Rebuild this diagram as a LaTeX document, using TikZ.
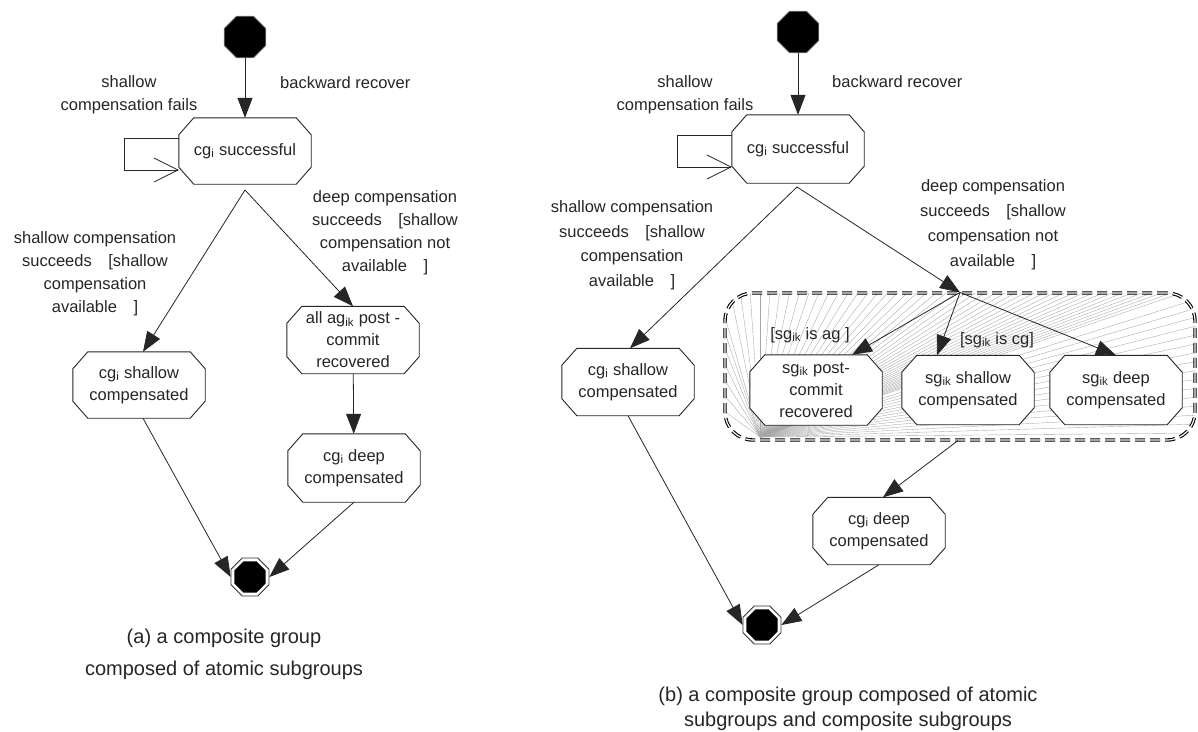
\documentclass[tikz,border=0pt]{standalone}
\usepackage{fontspec}
\setmainfont{Liberation Sans}
\usetikzlibrary{arrows.meta,shapes.geometric}
\pgfdeclarelayer{back}
\pgfdeclarelayer{shape}
\pgfsetlayers{back,shape,main}
\newcommand\subx[1]{\textsubscript{#1}}
\newcommand\labfont{\fontsize{16.5}{23}\selectfont}
\newcommand\nodefont{\fontsize{16.5}{22}\selectfont}
\newcommand\capfont{\fontsize{20}{32}\selectfont}

\tikzset{
  stnode/.style={rectangle, inner sep=0pt, minimum width=132pt, minimum height=66pt,
    align=center, font=\nodefont, text=black!85},
  stline/.style={draw=black!85, fill=white, line width=0.9pt, line join=round},
  lab/.style={align=center, font=\labfont, text=black!85, inner sep=0pt},
  captxt/.style={align=center, font=\capfont, text=black!85, inner sep=0pt},
  arr/.style={draw=black!85, line width=0.8pt, -{Triangle[length=20pt,width=15pt]}},
  looparr/.style={draw=black!85, line width=0.8pt,
    -{Straight Barb[length=24pt,width=24pt,line width=0.8pt]}},
  initst/.style={regular polygon, regular polygon sides=8, minimum size=45pt,
    inner sep=0pt, fill=black, draw=black!50, line width=0.8pt},
  finring/.style={regular polygon, regular polygon sides=8, minimum size=41pt,
    inner sep=0pt, draw=black!80, line width=0.8pt, fill=white},
  fincore/.style={regular polygon, regular polygon sides=8, minimum size=34pt,
    inner sep=0pt, fill=black},
  groupbox/.style={draw=black, rounded corners=28pt, line width=1.1pt, double=white,
    double distance=1.2pt, dash pattern=on 10pt off 5pt,
    minimum width=470pt, minimum height=147pt, inner sep=0pt},
  fanline/.style={draw=black!35, line width=0.35pt},
}

% state box: a text node with a chamfered white outline behind it
\newcommand\stbox[4][]{%
  \node[stnode,#1] (#2) at (#3) {#4};
  \begin{pgfonlayer}{shape}
    \path[stline] ([xshift=15pt]#2.north west) -- ([xshift=-15pt]#2.north east)
      -- ([yshift=-17pt]#2.north east) -- ([yshift=17pt]#2.south east)
      -- ([xshift=-15pt]#2.south east) -- ([xshift=15pt]#2.south west)
      -- ([yshift=17pt]#2.south west) -- ([yshift=-17pt]#2.north west) -- cycle;
  \end{pgfonlayer}}

\begin{document}
\begin{tikzpicture}[x=1pt,y=-1pt]
\useasboundingbox (0,0) rectangle (1198,731);

\begin{pgfonlayer}{back}
  \fill[white] (0,0) rectangle (1198,731);
  % shading lines inside the composite-subgroup region
  \begin{scope}
    \clip[rounded corners=28pt] (725,293) rectangle (1195,440);
    \foreach \x in {730,740,...,1190} \draw[fanline] (760,437) -- (\x,290);
    \foreach \y in {298,307,...,434} \draw[fanline] (760,437) -- (1200,\y);
    \foreach \y in {300,318,...,420} \draw[fanline] (760,437) -- (720,\y);
  \end{scope}
\end{pgfonlayer}

% ---------- (a) ----------
\node[initst] (ia) at (245,37) {};
\stbox{s1a}{245,151}{cg\subx{i} successful}
\stbox{s2a}{139,385}{cg\subx{i} shallow\\compensated}
\stbox[minimum height=67pt]{s3a}{353,340}{all ag\subx{ik} post -\\commit\\recovered}
\stbox[minimum height=68pt]{s4a}{354,468}{cg\subx{i} deep\\compensated}
\node[finring] (fina) at (250,577) {};
\node[fincore] (fina-core) at (fina.center) {};

\node[lab] (la1) at (129,95) {shallow\\compensation fails};
\node[lab, anchor=west] (la2) at (280,83) {backward recover};
\node[lab] (la3) at (95,274) {shallow compensation\\succeeds\quad[shallow\\compensation\\available\quad]};
\node[lab] (la4) at (385,233) {deep compensation\\succeeds\quad[shallow\\compensation not\\available\quad]};
\node[captxt] (capa) at (224,654) {(a) a composite group\\composed of atomic subgroups};

\coordinate (forka) at (245,190);
\draw[arr] (ia) -- (s1a);
\draw[looparr] ([yshift=13pt]s1a.west) -- ++(-54,0) -- ++(0,32) -- ([yshift=-19pt]s1a.west);
\draw[arr] (forka) -- ([xshift=4pt]s2a.north);
\draw[arr] (forka) -- (s3a.north);
\draw[arr] (s3a) -- (s4a);
\draw[arr] ([xshift=4pt]s2a.south) -- (fina.west);
\draw[arr] (s4a.south) -- (fina.east);

% ---------- (b) ----------
\node[initst] (ib) at (798,32) {};
\stbox[minimum height=68pt]{s1b}{798,149}{cg\subx{i} successful}
\stbox[minimum height=67pt]{s2b}{628,382}{cg\subx{i} shallow\\compensated}
\node[groupbox] (grp) at (960,366.5) {};
\stbox[minimum height=70pt]{p1}{816,390}{sg\subx{ik} post-\\commit\\recovered}
\stbox[minimum height=69pt]{p2}{968,390}{sg\subx{ik} shallow\\compensated}
\stbox[minimum height=69pt]{p3}{1116,390}{sg\subx{ik} deep\\compensated}
\stbox[minimum height=67pt]{s4b}{879,531}{cg\subx{i} deep\\compensated}
\node[finring] (finb) at (762,625) {};
\node[fincore] (finb-core) at (finb.center) {};

\node[lab] (lb1) at (685,95) {shallow\\compensation fails};
\node[lab, anchor=west] (lb2) at (832,82) {backward recover};
\node[lab, font=\fontsize{16.5}{24.5}\selectfont] (lb3) at (632,245)
  {shallow compensation\\succeeds\quad[shallow\\compensation\\available\quad]};
\node[lab, font=\fontsize{16.5}{25}\selectfont] (lb4) at (993,225)
  {deep compensation\\succeeds\quad[shallow\\compensation not\\available\quad]};
\node[lab] (lb5) at (810,335) {[sg\subx{ik} is ag ]};
\node[lab] (lb6) at (997,340) {[sg\subx{ik} is cg]};
\node[captxt, font=\fontsize{20}{25}\selectfont] (capb) at (848,709)
  {(b) a composite group composed of atomic\\subgroups and composite subgroups};

\coordinate (forkb) at (797,187);
\draw[arr] (ib) -- (s1b);
\draw[looparr] ([yshift=14pt]s1b.west) -- ++(-54,0) -- ++(0,32) -- ([yshift=-18pt]s1b.west);
\draw[arr] (forkb) -- ([xshift=2pt]s2b.north);
\draw[arr] (forkb) -- (grp.north);
\draw[arr] (grp.north) -- ([xshift=36pt]p1.north);
\draw[arr] (grp.north) -- ([xshift=-31pt]p2.north);
\draw[arr] (grp.north) -- (p3.north);
\draw[arr] ([xshift=-2pt]grp.south) -- ([xshift=4pt]s4b.north);
\draw[arr] (s2b.south) -- (finb.west);
\draw[arr] (s4b.south) -- (finb.east);
\end{tikzpicture}
\end{document}
